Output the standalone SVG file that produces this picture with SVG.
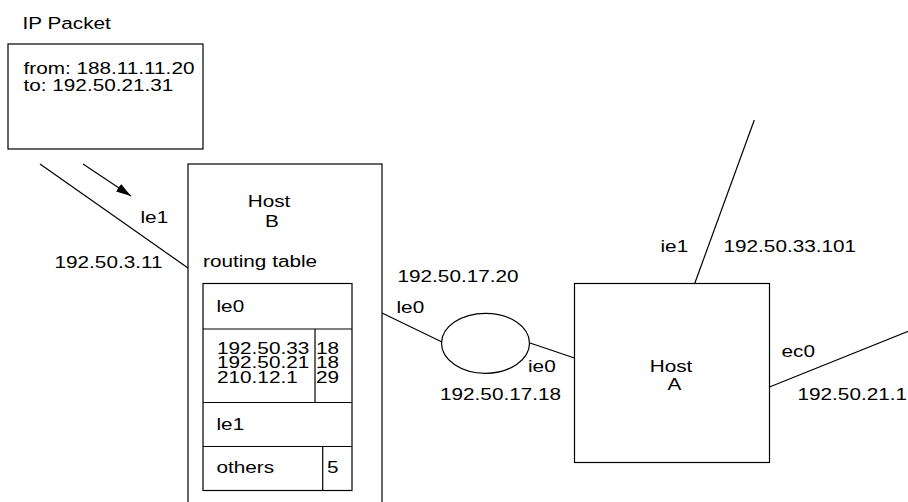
<svg xmlns="http://www.w3.org/2000/svg" width="908" height="502" viewBox="0 0 908 502">
<defs>
<style>
.t{font-family:"Liberation Sans",Arial,Helvetica,sans-serif;font-size:17px;fill:#000}
.m{text-anchor:middle}
.b{fill:#fff;stroke:#000;stroke-width:1.2}
.l{fill:none;stroke:#000;stroke-width:1.2}
</style>
<marker id="ah" markerUnits="userSpaceOnUse" markerWidth="16" markerHeight="10" refX="15" refY="4.5" orient="auto">
<path d="M0,0 L15,4.5 L0,9 z" fill="#000"/>
</marker>
</defs>
<rect width="908" height="502" fill="#fff"/>
<g id="connectors">
<line class="l" x1="40" y1="164" x2="188" y2="268"/>
<line class="l" x1="83" y1="164" x2="131" y2="196" marker-end="url(#ah)"/>
<line class="l" x1="382" y1="313" x2="442" y2="342"/>
<line class="l" x1="530" y1="343" x2="574.5" y2="358"/>
<line class="l" x1="694.7" y1="283.5" x2="754.3" y2="120"/>
<line class="l" x1="769.5" y1="387" x2="912" y2="329.8"/>
</g>
<g id="ip-packet">
<text class="t" transform="matrix(1.22 0 0 1 22.5 28.5)">IP Packet</text>
<rect class="b" x="8" y="44" width="195" height="105"/>
<text class="t" transform="matrix(1.22 0 0 1 23.5 74)">from: 188.11.11.20</text>
<text class="t" transform="matrix(1.22 0 0 1 23.5 91)">to: 192.50.21.31</text>
</g>
<g id="host-b">
<rect class="b" x="188" y="164" width="194" height="400"/>
<text class="t m" transform="matrix(1.22 0 0 1 269 207)">Host</text>
<text class="t m" transform="matrix(1.22 0 0 1 272 226.5)">B</text>
<text class="t" transform="matrix(1.22 0 0 1 140.5 222.5)">le1</text>
<text class="t" transform="matrix(1.22 0 0 1 54.5 267.5)">192.50.3.11</text>
<text class="t" transform="matrix(1.22 0 0 1 203 267)">routing table</text>
<text class="t" transform="matrix(1.22 0 0 1 397.5 281.5)">192.50.17.20</text>
<text class="t" transform="matrix(1.22 0 0 1 396.5 313)">le0</text>
</g>
<g id="routing-table">
<rect class="b" x="203" y="283.5" width="149" height="207"/>
<line class="l" x1="203" y1="329" x2="352" y2="329"/>
<line class="l" x1="203" y1="402.5" x2="352" y2="402.5"/>
<line class="l" x1="203" y1="446.5" x2="352" y2="446.5"/>
<line class="l" x1="315" y1="329" x2="315" y2="402.5"/>
<line class="l" x1="322.7" y1="446.5" x2="322.7" y2="490.5"/>
<text class="t" transform="matrix(1.22 0 0 1 216.5 311.5)">le0</text>
<text class="t" transform="matrix(1.22 0 0 1 217 353.5)">192.50.33</text>
<text class="t" transform="matrix(1.22 0 0 1 217 368)">192.50.21</text>
<text class="t" transform="matrix(1.22 0 0 1 217 382.5)">210.12.1</text>
<text class="t" transform="matrix(1.22 0 0 1 316 353.5)">18</text>
<text class="t" transform="matrix(1.22 0 0 1 316 368)">18</text>
<text class="t" transform="matrix(1.22 0 0 1 316 382.5)">29</text>
<text class="t" transform="matrix(1.22 0 0 1 216.5 430)">le1</text>
<text class="t" transform="matrix(1.22 0 0 1 216.5 472.5)">others</text>
<text class="t" transform="matrix(1.22 0 0 1 327 472.5)">5</text>
</g>
<g id="net">
<ellipse class="b" cx="485.5" cy="343.3" rx="44" ry="30"/>
<text class="t" transform="matrix(1.22 0 0 1 528 371.5)">ie0</text>
<text class="t" transform="matrix(1.22 0 0 1 440 400)">192.50.17.18</text>
</g>
<g id="host-a">
<rect class="b" x="574.5" y="283.5" width="195" height="179"/>
<text class="t m" transform="matrix(1.22 0 0 1 671 371.5)">Host</text>
<text class="t m" transform="matrix(1.22 0 0 1 674.5 389.5)">A</text>
<text class="t" transform="matrix(1.22 0 0 1 660.5 251.5)">ie1</text>
<text class="t" transform="matrix(1.22 0 0 1 723.5 251.5)">192.50.33.101</text>
<text class="t" transform="matrix(1.22 0 0 1 781.5 356.5)">ec0</text>
<text class="t" transform="matrix(1.22 0 0 1 797.5 400)">192.50.21.1</text>
</g>
</svg>
